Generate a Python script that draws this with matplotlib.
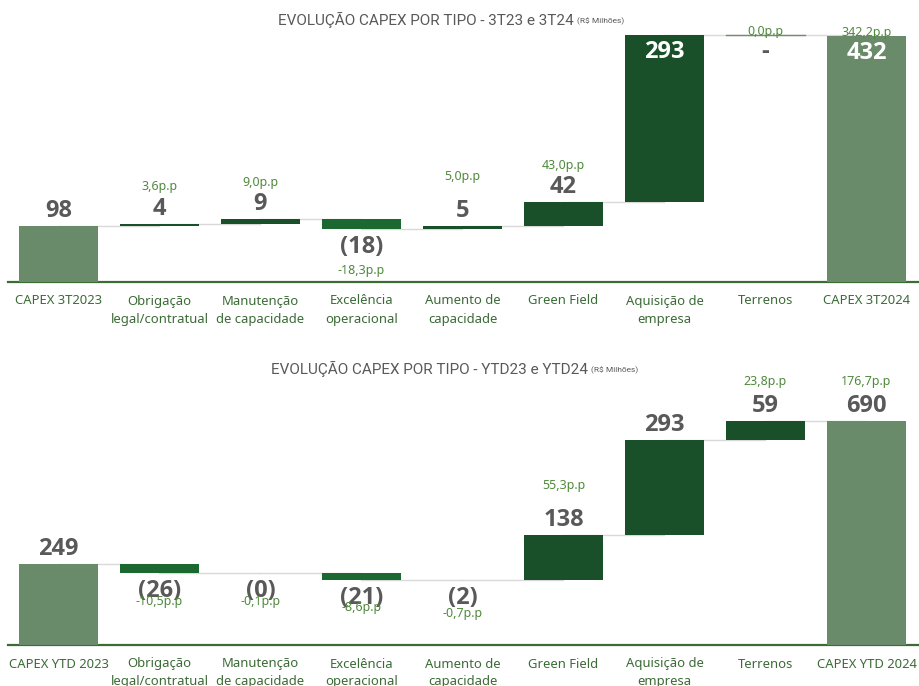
import matplotlib.pyplot as plt
import numpy as np

plt.rcParams['font.family'] = ['Noto Sans', 'DejaVu Sans']

# data (R$ milhões)
top_categories = ["CAPEX 3T2023", "Obrigação\nlegal/contratual", "Manutenção\nde capacidade",
                  "Excelência\noperacional", "Aumento de\ncapacidade", "Green Field",
                  "Aquisição de\nempresa", "Terrenos", "CAPEX 3T2024"]
top_values = [98, 4, 9, -18, 5, 42, 293, 0, 432]
top_pp = [None, 3.6, 9.0, -18.3, 5.0, 43.0, None, 0.0, 342.2]

bottom_categories = ["CAPEX YTD 2023", "Obrigação\nlegal/contratual", "Manutenção\nde capacidade",
                     "Excelência\noperacional", "Aumento de\ncapacidade", "Green Field",
                     "Aquisição de\nempresa", "Terrenos", "CAPEX YTD 2024"]
bottom_values = [249, -26, -0.3, -21, -2, 138, 293, 59, 690]
bottom_pp = [None, -10.5, -0.1, -8.6, -0.7, 55.3, None, 23.8, 176.7]

# p.p label offsets from the bar edge, in pixels
top_pp_off = [0, 37, 36, -41, 50, 37, 0, 4, 4]
bottom_pp_off = [0, -29, -29, -28, -33, 50, 0, 40, 40]

TOTAL = "#6a8b69"
POS = "#19502a"
NEG = "#1c6831"
GRAY = "#595959"
PPGREEN = "#4f8a3c"
CATGREEN = "#3b6b36"
BOLD_FONT = ["Open Sans", "Liberation Sans", "DejaVu Sans"]

W, H = 920, 686
fig = plt.figure(figsize=(W / 100, H / 100), dpi=100)


def px(v):
    return v * 0.72  # pixels -> points at 100 dpi


def fmt_val(v):
    if round(v) == 0 and v >= 0:
        return "-"
    if v < 0:
        return f"({abs(v):.0f})"
    return f"{v:.0f}"


def waterfall(ax, cats, vals, pp, pp_off, ytop, inside_frac):
    n = len(vals)
    x = np.arange(n)
    w = 0.79
    bottoms, heights, colors, levels = [], [], [], []
    run = 0
    for i, v in enumerate(vals):
        if i == 0 or i == n - 1:
            bottoms.append(0)
            heights.append(v)
            colors.append(TOTAL)
            run = v
        else:
            bottoms.append(run if v >= 0 else run + v)
            heights.append(abs(v))
            colors.append(POS if v >= 0 else NEG)
            run += v
        levels.append(run)

    # connectors behind the bars
    for i in range(n - 1):
        ax.plot([x[i], x[i + 1]], [levels[i], levels[i]], color="#d9d9d9", lw=1, zorder=1)
    for i in range(n):
        if heights[i] == 0 and 0 < i < n - 1:
            ax.plot([x[i] - w / 2, x[i] + w / 2], [levels[i], levels[i]], color="#6f8f6a", lw=1, zorder=2)
    ax.bar(x, heights, bottom=bottoms, width=w, color=colors, zorder=3)

    for i, v in enumerate(vals):
        top = bottoms[i] + heights[i]
        total = i == 0 or i == n - 1
        if v >= 0 or total:
            anchor = top
            if top > inside_frac * ytop:
                dy = -17
                col = "white" if heights[i] > 0 else GRAY
            else:
                dy = 15
                col = GRAY
        else:
            anchor = bottoms[i]
            dy = -18
            col = GRAY
        ax.annotate(fmt_val(v), (x[i], anchor), xytext=(0, px(dy)), textcoords="offset points",
                    ha="center", va="center", fontsize=17, fontweight="bold", color=col,
                    family=BOLD_FONT, annotation_clip=False, zorder=5)
        if pp[i] is not None:
            s = f"{pp[i]:.1f}".replace(".", ",") + "p.p"
            ax.annotate(s, (x[i], anchor), xytext=(0, px(pp_off[i])), textcoords="offset points",
                        ha="center", va="center", fontsize=9, color=PPGREEN,
                        annotation_clip=False, zorder=6)

    ax.set_xlim(-0.5, 8.53)
    ax.set_ylim(0, ytop)
    ax.set_xticks(x, cats, fontsize=9.4, color=CATGREEN, linespacing=1.5)
    ax.tick_params(axis="x", length=0, pad=px(12.5))
    ax.set_yticks([])
    for s in ["top", "left", "right"]:
        ax.spines[s].set_visible(False)
    ax.spines["bottom"].set_color("#3d6b35")
    ax.spines["bottom"].set_linewidth(1.6)


# top chart: baseline at y=282 px, 0.5694 px per unit
ax1 = fig.add_axes([8 / W, (H - 282) / H, 912 / W, 252 / H])
waterfall(ax1, top_categories, top_values, top_pp, top_pp_off, 252 / 0.5694, 0.9)

# bottom chart: baseline at y=645 px, 0.3246 px per unit
ax2 = fig.add_axes([8 / W, (H - 645) / H, 912 / W, 265 / H])
waterfall(ax2, bottom_categories, bottom_values, bottom_pp, bottom_pp_off, 265 / 0.3246, 0.9)

# titles
for ytxt, main, xsplit in [(20, "EVOLUÇÃO CAPEX POR TIPO - 3T23 e 3T24", 574),
                           (369, "EVOLUÇÃO CAPEX POR TIPO - YTD23 e YTD24", 588)]:
    fig.text(xsplit / W, 1 - ytxt / H, main, ha="right", va="center", fontsize=11,
             color=GRAY, family=["Roboto", "DejaVu Sans"])
    fig.text((xsplit + 3) / W, 1 - (ytxt + 1) / H, "(R$ Milhões)", ha="left", va="center",
             fontsize=6, color=GRAY, family=["Roboto", "DejaVu Sans"])

fig.savefig("out.png", dpi=100, facecolor="white")
